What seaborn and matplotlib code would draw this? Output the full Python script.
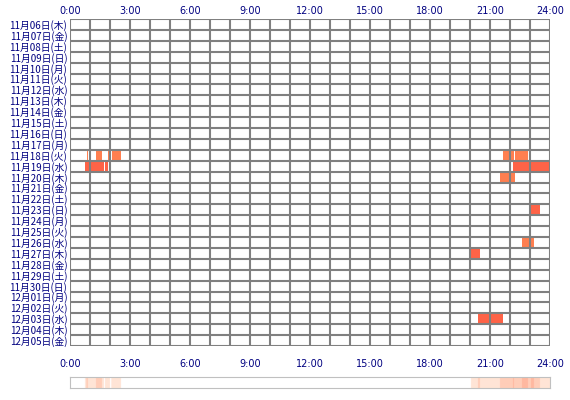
import matplotlib
matplotlib.use("Agg")
import matplotlib.pyplot as plt
import seaborn as sns
import numpy as np
import pandas as pd

sns.set_style("white")
plt.rcParams['font.family'] = ['Noto Sans CJK JP', 'DejaVu Sans']

dates = ["11月06日(木)","11月07日(金)","11月08日(土)","11月09日(日)","11月10日(月)","11月11日(火)",
         "11月12日(水)","11月13日(木)","11月14日(金)","11月15日(土)","11月16日(日)","11月17日(月)",
         "11月18日(火)","11月19日(水)","11月20日(木)","11月21日(金)","11月22日(土)","11月23日(日)",
         "11月24日(月)","11月25日(火)","11月26日(水)","11月27日(木)","11月28日(金)","11月29日(土)",
         "11月30日(日)","12月01日(月)","12月02日(火)","12月03日(水)","12月04日(木)","12月05日(金)"]
tick_hours = [0, 3, 6, 9, 12, 15, 18, 21, 24]
tick_labels = ["0:00","3:00","6:00","9:00","12:00","15:00","18:00","21:00","24:00"]

seg_row   = [12, 12, 12, 12, 12, 12, 13, 13, 13, 14, 17, 20, 21, 27]
seg_start = [0.83, 1.3, 1.9, 2.08, 21.65, 22.25, 0.75, 1.75, 22.15, 21.5, 23.05, 22.6, 20.05, 20.4]
seg_end   = [0.9, 1.6, 2.0, 2.55, 22.2, 22.9, 1.7, 1.9, 24.0, 22.25, 23.5, 23.2, 20.5, 21.65]
seg_color = ["#FF7F50","#FF7F50","#FF7F50","#FF7F50","#FF7F50","#FF7F50",
             "#FF6347","#FF6347","#FF6347","#FF7F50","#FF6347","#FF7F50","#FF6347","#FF6347"]

df = pd.DataFrame({"row": seg_row, "start": seg_start, "end": seg_end, "color": seg_color})
df["width"] = df["end"] - df["start"]

fig = plt.figure(figsize=(5.7, 4.0), dpi=100)
ax = fig.add_axes([70/570, 1-346/400, 480/570, 327/400])
n = len(dates)
ax.barh(df["row"], df["width"], left=df["start"], height=1.0, color=df["color"],
        align="center", zorder=1, linewidth=0)
ax.set_xlim(0, 24)
ax.set_ylim(n - 0.5, -0.5)
ax.grid(False)
for h in range(25):
    ax.axvline(h, color="#808080", lw=1.5, zorder=2, snap=True)
for r in range(n + 1):
    ax.axhline(r - 0.5, color="#808080", lw=1.5, zorder=2, snap=True)
ax.set_xticks([])
ax.set_yticks(range(n))
ax.set_yticklabels(dates, fontsize=7, color="#000080")
ax.tick_params(axis="y", length=0, pad=2)
for s in ax.spines.values():
    s.set_visible(False)
for h, lab in zip(tick_hours, tick_labels):
    ax.text(h, -0.75, lab, ha="center", va="bottom", fontsize=7, color="#000080", family="DejaVu Sans")
    ax.text(h, n - 0.5 + 1.2, lab, ha="center", va="top", fontsize=7, color="#000080", family="DejaVu Sans")

# summary strip
ax2 = fig.add_axes([70/570, 1-388/400, 480/570, 11/400])
mins = np.zeros(24 * 60)
for s, e in zip(seg_start, seg_end):
    mins[int(s * 60):int(e * 60)] += 1
cmap = sns.blend_palette(["#FFFFFF", "#FFE4D6", "#FFCDB8", "#FFB8A0"], as_cmap=True)
ax2.imshow(mins[None, :], aspect="auto", cmap=cmap, vmin=0, vmax=3, extent=[0, 24, 0, 1])
ax2.set_xticks([]); ax2.set_yticks([])
for s in ax2.spines.values():
    s.set_color("#c0c0c0")
fig.savefig("out.png", dpi=100)
